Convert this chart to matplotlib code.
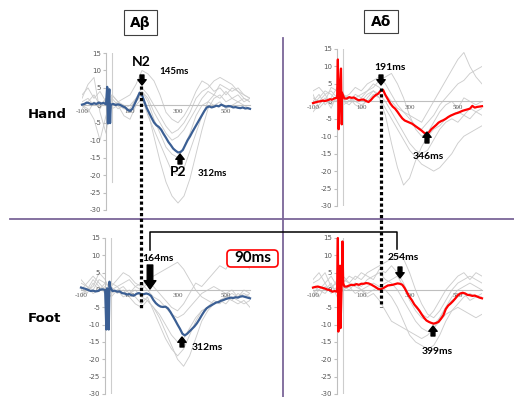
import numpy as np
import matplotlib
matplotlib.use('Agg')
import matplotlib.pyplot as plt
from matplotlib.lines import Line2D
from matplotlib.patches import FancyArrowPatch, FancyBboxPatch
from matplotlib.transforms import IdentityTransform

plt.rcParams['axes.unicode_minus'] = False

W, H = 514, 397

# sampling grids (ms)
t_mean = np.arange(-100, 601, 10)
t_gray = np.arange(-100, 601, 25)

# ---- hand, A-beta (blue) ----
hand_ab_mean = [0.2, 0.4, 0.8, 0.6, 0.3, 0.6, 0.4, 0.8, 0.5, 0.7,
                0.3, 0.5, 0.2, 0.4, 0.1, 0.3, 0.1, -0.3, -0.6, -1.3,
                -1.6, -1.0, 0.5, 2.0, 3.6, 3.0, 1.0, -0.8, -2.2, -3.6,
                -4.9, -5.7, -6.2, -7.0, -8.2, -9.3, -10.5, -11.4, -12.4, -13.0,
                -13.5, -13.4, -12.8, -11.4, -10.0, -8.9, -7.6, -6.4, -5.2, -4.0,
                -2.8, -1.6, -0.6, -0.3, -0.6, -0.4, -0.1, -0.3, 0.2, -0.1,
                -0.4, -0.2, -0.3, -0.6, -0.5, -0.7, -0.8, -0.6, -0.9, -0.8,
                -1.0]
hand_ab_art_t = [5, 8, 14, 17]
hand_ab_art_v = [5.3, -5.2, 4.6, -5.1]
hand_ab_gray = [
    [1, 2, 0, 1, 0, 1, -1, 0, -2, 1, 3, -2, -9, -16, -22, -26, -28, -26, -21, -14, -7, -1, 2, 3, 1, 2, 1, 2, 1],
    [0, -2, 1, -1, 2, -1, 0, -3, -4, 0, 2, -3, -7, -11, -15, -19, -20, -18, -13, -8, -3, 1, 3, 2, 4, 2, 3, 1, 2],
    [3, 5, 2, 4, 1, 3, 1, 2, 3, 6, 10, 9, 7, 3, -2, -4, -5, -3, 0, 4, 7, 6, 4, 5, 3, 5, 4, 3, 2],
    [-1, 1, 3, 0, 2, 0, 1, -1, 0, 2, 5, 3, 0, -3, -6, -8, -7, -5, -2, 2, 4, 5, 7, 8, 7, 6, 4, 2, 1],
    [2, 6, 8, -2, -8, 3, 1, 0, -2, 1, 4, 2, -2, -5, -8, -10, -9, -7, -4, -1, 2, 4, 3, 6, 5, 4, 5, 3, 2],
    [0, -1, -4, -10, -3, 2, 0, -1, -1, 2, 4, 1, -4, -8, -12, -14, -15, -12, -8, -3, 0, 1, 0, 1, -1, 0, 1, 0, -1],
]
hand_ab_gart = [15, -22]

# ---- hand, A-delta (red) ----
hand_ad_mean = [-0.5, -0.3, -0.1, 0.0, 0.2, 0.1, 0.3, 0.6, 0.5, 0.9,
                1.0, 3.0, 2.5, 0.8, 0.8, 1.2, 1.0, 1.1, 0.6, 0.3,
                0.5, 0.5, 0.1, -0.2, 0.4, 1.2, 1.8, 2.2, 3.0, 3.3,
                1.8, 0.6, -0.6, -1.5, -2.1, -3.0, -4.0, -4.9, -5.5, -5.8,
                -6.1, -6.4, -6.9, -7.4, -7.9, -8.4, -9.0, -9.3, -8.9, -8.0,
                -7.4, -6.8, -6.1, -5.7, -5.4, -5.0, -4.5, -4.1, -3.8, -3.5,
                -3.3, -3.0, -2.7, -2.5, -2.3, -2.1, -1.3, -1.8, -1.6, -1.5,
                -1.4]
hand_ad_art_t = [3, 6, 16, 19]
hand_ad_art_v = [12, -8, 9.4, -6.6]
hand_ad_gray = [
    [1, 0, 2, -1, 1, 0, -1, 1, 0, 2, 3, 1, -4, -12, -19, -24, -22, -17, -13, -10, -8, -7, -5, -4, -3, -4, -2, -3, -2],
    [3, 4, 2, 3, 1, 2, 0, 1, 2, 3, 5, 4, 2, 0, -2, -3, -4, -5, -6, -3, 0, 3, 6, 9, 12, 14, 10, 7, 5],
    [-1, 1, 3, 2, 0, 1, 2, 4, 3, 5, 6, 7, 5, 2, -1, -3, -5, -7, -8, -6, -4, -1, 1, 3, 5, 6, 8, 9, 10],
    [2, -2, 0, 4, 3, -1, 0, 2, 1, 3, 4, 6, 7, 8, 5, 1, -4, -8, -10, -9, -6, -3, -1, 0, -2, 1, 0, -1, 0],
    [-3, -1, 1, -2, 2, 0, 1, 0, -1, 0, 2, 1, -2, -5, -8, -11, -14, -16, -18, -19, -20, -19, -17, -15, -12, -10, -9, -8, -7],
    [0, 2, -1, 1, 4, 2, 1, -1, -2, 1, 3, 2, 0, -3, -6, -9, -12, -14, -15, -14, -11, -8, -6, -5, -6, -4, -5, -3, -4],
]
hand_ad_gart = [15, -30]

# ---- foot, A-beta (blue) ----
foot_ab_mean = [0.7, 0.5, 0.3, 0.0, -0.3, -0.2, -0.4, -0.3, 0.1, 0.2,
                0.0, -0.2, 1.0, -0.3, -0.2, -0.5, -0.4, -0.9, -1.0, -1.3,
                -1.2, -1.5, -1.6, -1.1, -0.9, -1.2, -1.2, -1.0, -1.2, -1.7,
                -2.9, -3.8, -4.4, -4.8, -4.9, -4.8, -5.3, -6.3, -7.5, -8.7,
                -10.0, -11.2, -12.6, -13.1, -12.6, -11.9, -11.2, -10.5, -9.6, -8.5,
                -7.3, -6.2, -5.3, -4.8, -4.4, -4.0, -3.6, -3.5, -3.1, -2.9,
                -2.6, -2.4, -2.2, -2.3, -2.1, -2.2, -1.9, -1.8, -2.0, -2.2,
                -2.4]
foot_ab_art_t = [5, 8, 15, 18]
foot_ab_art_v = [-11.4, 0.5, -11.4, 2.4]
foot_ab_gray = [
    [1, -1, 2, 0, 1, -2, 0, 1, -1, 0, -2, -3, -5, -8, -12, -16, -20, -22, -19, -14, -9, -6, -4, -3, -2, -3, -1, -2, -1],
    [-1, 0, 3, 1, -1, 2, 1, -1, 0, -2, -4, -2, -6, -10, -14, -17, -19, -17, -13, -9, -6, -5, -3, -4, -2, -1, -2, 0, -1],
    [2, 1, 0, 3, 2, 0, 1, 2, 3, 1, 0, 2, 1, -1, -3, -5, -6, -4, -1, 2, 1, 3, 5, 7, 6, 9, 10, 8, 6],
    [0, 2, 4, 2, 0, 1, 3, 5, 4, 2, 1, 3, 4, 5, 6, 7, 8, 6, 3, 0, -2, -3, -4, -3, -2, -3, -4, -3, -5],
    [3, 1, -1, 0, 2, 1, -1, 0, -2, -4, -5, -3, -5, -7, -10, -13, -15, -14, -11, -8, -6, -5, -4, -3, -4, -2, -3, -4, -3],
    [-2, 0, 1, 5, 3, -1, 0, -2, -1, 1, 2, 0, -2, -3, -5, -7, -8, -7, -5, -3, -1, 0, 1, 0, -1, 0, -2, -1, -2],
]
foot_ab_gart = [15, -30]

# ---- foot, A-delta (red) ----
foot_ad_mean = [0.7, 0.9, 1.0, 0.8, 0.6, 0.4, 0.1, 0.0, -0.5, -0.3,
                -0.5, 6.0, 5.0, 1.0, 1.0, 1.3, 1.5, 1.4, 1.7, 1.5,
                1.8, 1.8, 2.0, 1.9, 1.6, 1.2, 0.8, 0.3, 0.2, 0.5,
                0.9, 1.3, 1.4, 1.5, 1.7, 1.9, 1.8, 1.5, 0.5, -0.8,
                -2.0, -3.0, -4.2, -5.0, -5.9, -7.0, -8.0, -8.8, -9.2, -9.5,
                -9.7, -9.5, -9.2, -8.3, -7.3, -5.5, -4.5, -3.9, -3.2, -2.4,
                -1.5, -1.0, -0.8, -1.0, -1.4, -1.5, -1.7, -1.6, -1.9, -2.2,
                -2.4]
foot_ad_art_t = [3, 5, 12, 14, 22, 25]
foot_ad_art_v = [15, -12, 7, -11, 14, 2]
foot_ad_gray = [
    [1, 0, 2, -1, 1, 0, 1, 2, 0, 1, 2, 1, 0, -2, -5, -9, -13, -15, -16, -17, -16, -13, -9, -6, -4, -2, -1, -2, -1],
    [3, 5, 2, 4, 1, 3, 2, 4, 3, 5, 6, 7, 8, 9, 10, 9, 5, 0, -4, -7, -8, -6, -3, 0, 2, 3, 4, 3, 2],
    [-1, 1, 0, 2, -2, 0, 1, -1, 0, -2, -1, -3, -6, -9, -10, -11, -12, -13, -14, -13, -11, -8, -5, -3, -2, -1, -3, -2, -2],
    [0, -2, 1, 0, 3, 1, 0, 2, 1, 3, 4, 5, 3, 2, 0, -3, -6, -9, -11, -12, -11, -9, -7, -6, -5, -6, -7, -8, -7],
    [2, 3, 5, 1, 0, 2, 4, 3, 5, 4, 3, 6, 5, 7, 5, 2, -2, -5, -7, -8, -6, -3, 0, 2, 4, 5, 3, 5, 4],
    [-2, 0, -1, 1, 2, 4, 2, 1, 0, -1, 0, 1, 2, 3, 4, 1, -3, -6, -8, -9, -10, -8, -5, -2, 0, 1, 2, 1, 0],
]
foot_ad_gart = [15, -30]

gart_t = [24, 24]
yticks = list(range(-30, 16, 5))
xticks = [-100, 100, 300, 500]

BLUE = '#3B5F94'
RED = '#FF0000'
GRAY = '#CDCDCD'
AXC = '#BFBFBF'
PURPLE = '#7B6699'

fig = plt.figure(figsize=(W / 100, H / 100), dpi=100)
fig.patch.set_facecolor('white')


def fx(x):
    return x / W


def fy(y):
    return 1 - y / H


def panel(box, mean, art_t, art_v, grays, gart, color):
    l, t, r, b = box
    ax = fig.add_axes([fx(l), fy(b), fx(r) - fx(l), fy(t) - fy(b)])
    ax.patch.set_alpha(0)
    for g in grays:
        ax.plot(t_gray, g, color=GRAY, lw=0.65, zorder=1)
    ax.plot(gart_t, gart, color=GRAY, lw=0.8, zorder=1)
    tt = np.concatenate([t_mean, art_t])
    vv = np.concatenate([mean, art_v])
    o = np.argsort(tt, kind='stable')
    ax.plot(tt[o], vv[o], color=color, lw=1.6, zorder=3, clip_on=False)
    ax.set_xlim(-100, 600)
    ax.set_ylim(-30, 15)
    for s in ['top', 'right']:
        ax.spines[s].set_visible(False)
    ax.spines['left'].set_position(('data', 0))
    ax.spines['bottom'].set_position(('data', 0))
    ax.spines['left'].set_color(AXC)
    ax.spines['bottom'].set_color(AXC)
    ax.spines['left'].set_linewidth(0.8)
    ax.spines['bottom'].set_linewidth(0.8)
    ax.set_yticks(yticks)
    ax.set_xticks(xticks)
    ax.tick_params(axis='y', length=2.5, color=AXC, labelsize=5, labelcolor='#595959', pad=1)
    ax.tick_params(axis='x', length=0, labelsize=5, labelcolor='#595959', pad=2.5)
    for lab in ax.get_xticklabels():
        lab.set_family('Liberation Serif')
    return ax


panel((82, 53, 250, 210), hand_ab_mean, hand_ab_art_t, hand_ab_art_v, hand_ab_gray, hand_ab_gart, BLUE)
panel((313, 49, 482, 206), hand_ad_mean, hand_ad_art_t, hand_ad_art_v, hand_ad_gray, hand_ad_gart, RED)
panel((81, 238, 250, 394), foot_ab_mean, foot_ab_art_t, foot_ab_art_v, foot_ab_gray, foot_ab_gart, BLUE)
panel((313, 238, 482, 394), foot_ad_mean, foot_ad_art_t, foot_ad_art_v, foot_ad_gray, foot_ad_gart, RED)

# dividers
fig.add_artist(Line2D([fx(10), 1], [fy(219), fy(219)], transform=fig.transFigure, color=PURPLE, lw=1.3))
fig.add_artist(Line2D([fx(283), fx(283)], [fy(38), 0], transform=fig.transFigure, color=PURPLE, lw=1.3))

# dotted latency guides
fig.add_artist(Line2D([fx(141), fx(141)], [fy(86), fy(309)], transform=fig.transFigure,
                      color='k', lw=2.3, linestyle=(0, (1, 0.8))))
fig.add_artist(Line2D([fx(381), fx(381)], [fy(88), fy(307)], transform=fig.transFigure,
                      color='k', lw=2.3, linestyle=(0, (1, 0.8))))

# bracket
fig.add_artist(Line2D([fx(150), fx(150), fx(397), fx(397)], [fy(250), fy(232), fy(232), fy(249)],
                      transform=fig.transFigure, color='k', lw=1.1, solid_joinstyle='round'))

# boxes (pixel coords, y from top)
def pbox(x0, y0, x1, y1, ec, lw, style):
    fig.add_artist(FancyBboxPatch((x0, H - y1), x1 - x0, y1 - y0, boxstyle=style,
                                  transform=IdentityTransform(), fc='white', ec=ec, lw=lw, zorder=4))

pbox(124, 10, 157, 35, '#404040', 0.8, 'square,pad=0')
pbox(364, 10, 398, 33, '#404040', 0.8, 'square,pad=0')
pbox(227, 250, 278, 267, 'red', 1.2, 'round,pad=0,rounding_size=4')

tfont = ['DejaVu Sans']
afont = ['Lato', 'DejaVu Sans']

def txt(x, y, s, size, fam, **kw):
    fig.text(fx(x), fy(y), s, ha='center', va='center', fontsize=size, fontweight='bold',
             family=fam, zorder=5, **kw)

txt(140.5, 23, 'A\u03b2', 10, tfont)
txt(381, 22, 'A\u03b4', 10, tfont)
txt(47, 115, 'Hand', 9.5, tfont)
txt(44, 319, 'Foot', 9.5, tfont)
txt(252.5, 258.5, '90ms', 11, afont)

txt(141, 62, 'N2', 10, afont)
txt(174, 72, '145ms', 7, afont)
txt(178, 172, 'P2', 10, afont)
txt(212, 173, '312ms', 7, afont)
txt(390, 68, '191ms', 7.5, afont)
txt(428, 157, '346ms', 7.5, afont)
txt(158, 258.5, '164ms', 7.5, afont)
txt(207, 348, '312ms', 7.5, afont)
txt(403, 258, '254ms', 7.5, afont)
txt(437, 352, '399ms', 7.5, afont)

# block arrows: x, tail y, tip y (pixels from top)
def arrow(x, y_tail, y_tip, hw=0.6, hl=0.38, tw=0.28):
    fig.add_artist(FancyArrowPatch((fx(x), fy(y_tail)), (fx(x), fy(y_tip)), transform=fig.transFigure,
                                   arrowstyle=f'simple,head_width={hw},head_length={hl},tail_width={tw}',
                                   mutation_scale=10, color='k', shrinkA=0, shrinkB=0, zorder=5))

arrow(142, 75, 85)
arrow(180, 164, 154)
arrow(381, 75, 85)
arrow(427, 143, 132)
arrow(150, 265, 289, hw=0.85, hl=0.6, tw=0.4)
arrow(182, 347, 337)
arrow(400, 267, 278)
arrow(433, 336, 326)

fig.savefig('out.png', dpi=100)
